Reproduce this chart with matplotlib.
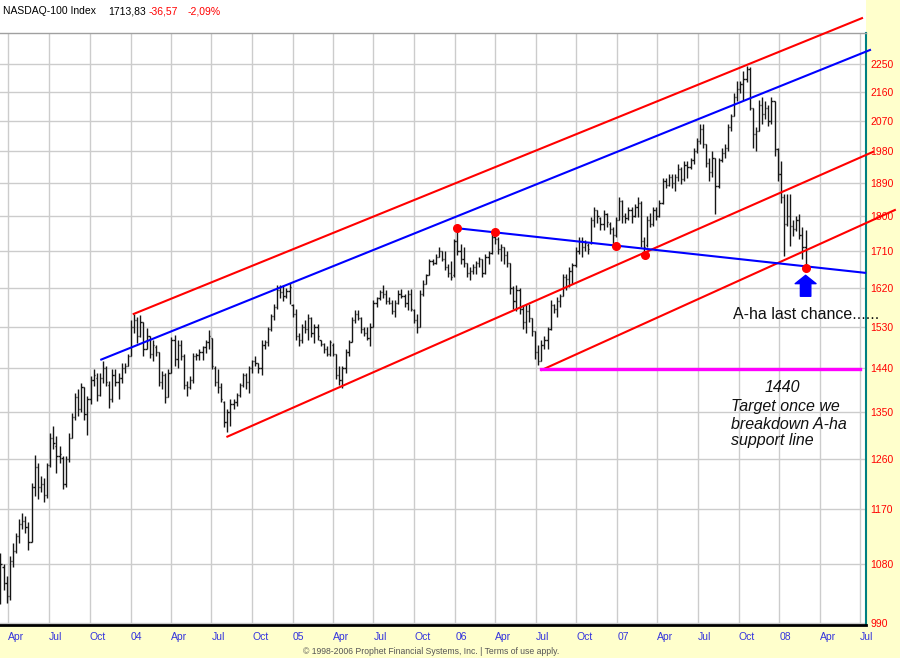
import matplotlib
matplotlib.use('Agg')
import matplotlib.pyplot as plt
import matplotlib.dates as mdates
from matplotlib.patches import Rectangle
import pandas as pd

plt.rcParams['font.family'] = ['Liberation Sans', 'DejaVu Sans']

# weekly NASDAQ-100 bars (first week ends 2003-03-14)
open_ = [1030, 1075, 1050, 1030, 1085, 1100, 1125, 1145, 1150, 1140,
         1115, 1210, 1245, 1210, 1215, 1195, 1248, 1300, 1285, 1265,
         1262, 1215, 1260, 1300, 1340, 1380, 1355, 1400, 1345, 1375,
         1415, 1420, 1385, 1420, 1440, 1405, 1375, 1425, 1410, 1420,
         1440, 1445, 1465, 1530, 1545, 1510, 1540, 1480, 1510, 1470,
         1485, 1475, 1410, 1425, 1380, 1430, 1500, 1460, 1490, 1465,
         1405, 1400, 1415, 1465, 1468, 1475, 1485, 1495, 1505, 1440,
         1410, 1400, 1370, 1330, 1350, 1365, 1370, 1385, 1405, 1425,
         1410, 1440, 1455, 1450, 1440, 1490, 1495, 1525, 1555, 1575,
         1615, 1610, 1600, 1612, 1580, 1560, 1510, 1500, 1530, 1525,
         1550, 1515, 1530, 1500, 1492, 1480, 1470, 1490, 1470, 1425,
         1415, 1440, 1475, 1495, 1545, 1560, 1550, 1525, 1515, 1505,
         1530, 1585, 1595, 1610, 1605, 1590, 1585, 1565, 1585, 1605,
         1600, 1585, 1605, 1568, 1545, 1530, 1605, 1630, 1650, 1685,
         1680, 1695, 1710, 1690, 1670, 1655, 1650, 1735, 1710, 1690,
         1680, 1655, 1660, 1670, 1680, 1690, 1655, 1695, 1705, 1745,
         1740, 1715, 1720, 1700, 1680, 1620, 1590, 1615, 1570, 1540,
         1565, 1550, 1520, 1475, 1455, 1490, 1500, 1525, 1580, 1570,
         1590, 1600, 1645, 1640, 1660, 1675, 1710, 1735, 1720, 1725,
         1730, 1790, 1815, 1795, 1780, 1805, 1780, 1765, 1750, 1790,
         1840, 1800, 1795, 1815, 1800, 1825, 1835, 1735, 1725, 1790,
         1780, 1815, 1800, 1835, 1895, 1885, 1905, 1890, 1905, 1930,
         1900, 1940, 1935, 1955, 1980, 2010, 2045, 2000, 1945, 1920,
         1960, 1880, 1955, 1975, 1990, 2050, 2085, 2145, 2170, 2185,
         2200, 2235, 2110, 2030, 2040, 2120, 2090, 2110, 2070, 2130,
         1985, 1915, 1850, 1780, 1800, 1775, 1765, 1790, 1750, 1720]
high = [1098, 1080, 1061, 1092, 1114, 1131, 1153, 1164, 1159, 1148,
        1217, 1268, 1253, 1229, 1226, 1253, 1309, 1322, 1303, 1284,
        1265, 1265, 1309, 1348, 1389, 1396, 1409, 1400, 1382, 1423,
        1437, 1430, 1430, 1454, 1445, 1412, 1437, 1437, 1430, 1451,
        1451, 1469, 1545, 1560, 1552, 1556, 1540, 1527, 1510, 1501,
        1490, 1475, 1434, 1430, 1437, 1508, 1512, 1501, 1501, 1470,
        1413, 1423, 1472, 1472, 1480, 1487, 1501, 1523, 1505, 1444,
        1437, 1409, 1372, 1355, 1375, 1375, 1389, 1409, 1430, 1430,
        1444, 1458, 1465, 1451, 1501, 1501, 1530, 1560, 1582, 1627,
        1627, 1627, 1620, 1631, 1582, 1571, 1516, 1537, 1545, 1560,
        1552, 1537, 1537, 1501, 1494, 1487, 1501, 1494, 1470, 1444,
        1444, 1480, 1501, 1553, 1568, 1568, 1553, 1530, 1530, 1538,
        1591, 1599, 1614, 1626, 1614, 1599, 1591, 1591, 1614, 1618,
        1606, 1614, 1618, 1570, 1560, 1614, 1638, 1654, 1690, 1690,
        1702, 1719, 1710, 1710, 1678, 1686, 1740, 1768, 1728, 1719,
        1680, 1670, 1678, 1686, 1694, 1690, 1702, 1710, 1754, 1760,
        1745, 1728, 1720, 1710, 1680, 1625, 1626, 1620, 1580, 1583,
        1583, 1550, 1520, 1490, 1500, 1509, 1530, 1591, 1583, 1599,
        1606, 1654, 1654, 1670, 1680, 1719, 1745, 1745, 1737, 1730,
        1798, 1825, 1816, 1798, 1816, 1807, 1785, 1772, 1798, 1851,
        1842, 1807, 1825, 1825, 1833, 1851, 1840, 1745, 1800, 1807,
        1825, 1825, 1842, 1904, 1904, 1914, 1914, 1914, 1942, 1933,
        1952, 1952, 1961, 1990, 2020, 2060, 2060, 2000, 1961, 1980,
        1960, 1961, 1990, 2000, 2060, 2091, 2155, 2196, 2196, 2227,
        2243, 2240, 2110, 2050, 2133, 2144, 2130, 2120, 2144, 2130,
        1990, 1952, 1859, 1859, 1859, 1790, 1800, 1805, 1771, 1763]
low = [1018, 1040, 1020, 1025, 1075, 1098, 1114, 1137, 1131, 1103,
       1115, 1194, 1188, 1200, 1182, 1190, 1245, 1278, 1235, 1253,
       1206, 1210, 1255, 1300, 1335, 1342, 1350, 1335, 1306, 1365,
       1403, 1372, 1382, 1409, 1403, 1358, 1370, 1403, 1375, 1409,
       1430, 1445, 1465, 1516, 1494, 1508, 1465, 1480, 1462, 1454,
       1465, 1403, 1396, 1368, 1380, 1430, 1444, 1440, 1458, 1396,
       1382, 1396, 1409, 1458, 1458, 1458, 1472, 1480, 1437, 1403,
       1389, 1369, 1320, 1310, 1323, 1355, 1362, 1380, 1400, 1396,
       1389, 1430, 1444, 1430, 1426, 1480, 1487, 1520, 1545, 1570,
       1597, 1590, 1597, 1582, 1552, 1501, 1487, 1494, 1516, 1501,
       1508, 1494, 1501, 1487, 1472, 1465, 1465, 1465, 1416, 1405,
       1399, 1430, 1465, 1495, 1538, 1545, 1516, 1509, 1501, 1487,
       1530, 1576, 1591, 1595, 1583, 1583, 1560, 1553, 1583, 1597,
       1576, 1568, 1565, 1538, 1516, 1530, 1600, 1630, 1650, 1674,
       1678, 1694, 1686, 1662, 1646, 1638, 1645, 1700, 1678, 1670,
       1646, 1638, 1654, 1654, 1670, 1646, 1654, 1678, 1702, 1728,
       1702, 1686, 1678, 1670, 1606, 1570, 1565, 1560, 1525, 1516,
       1540, 1509, 1460, 1447, 1455, 1480, 1480, 1523, 1561, 1553,
       1576, 1600, 1614, 1622, 1630, 1670, 1702, 1694, 1710, 1702,
       1728, 1772, 1781, 1763, 1763, 1772, 1754, 1725, 1745, 1789,
       1781, 1781, 1789, 1781, 1798, 1798, 1719, 1703, 1720, 1772,
       1775, 1789, 1798, 1833, 1877, 1880, 1877, 1868, 1895, 1886,
       1895, 1904, 1930, 1942, 1975, 2000, 1990, 1933, 1895, 1905,
       1805, 1877, 1950, 1960, 1980, 2040, 2085, 2130, 2155, 2133,
       2190, 2102, 1990, 1980, 2040, 2060, 2075, 2055, 2060, 1965,
       1895, 1835, 1698, 1775, 1722, 1747, 1760, 1740, 1690, 1671]
close = [1080, 1050, 1030, 1085, 1100, 1125, 1145, 1150, 1140, 1115,
         1210, 1245, 1210, 1215, 1195, 1248, 1300, 1290, 1265, 1270,
         1215, 1260, 1300, 1340, 1380, 1355, 1400, 1345, 1375, 1415,
         1425, 1385, 1420, 1440, 1410, 1375, 1425, 1410, 1420, 1440,
         1445, 1465, 1530, 1545, 1510, 1540, 1480, 1510, 1470, 1490,
         1475, 1410, 1425, 1380, 1430, 1500, 1460, 1490, 1465, 1405,
         1400, 1415, 1465, 1468, 1475, 1485, 1495, 1510, 1445, 1410,
         1400, 1375, 1330, 1350, 1365, 1370, 1385, 1405, 1425, 1410,
         1440, 1455, 1450, 1440, 1490, 1495, 1525, 1555, 1575, 1615,
         1610, 1600, 1612, 1622, 1560, 1510, 1500, 1530, 1525, 1550,
         1515, 1530, 1510, 1492, 1480, 1470, 1495, 1470, 1425, 1415,
         1440, 1475, 1495, 1545, 1560, 1550, 1525, 1515, 1505, 1530,
         1585, 1595, 1610, 1605, 1590, 1585, 1565, 1585, 1605, 1600,
         1585, 1605, 1570, 1545, 1530, 1605, 1630, 1650, 1685, 1680,
         1695, 1710, 1690, 1670, 1655, 1645, 1735, 1710, 1690, 1680,
         1655, 1660, 1670, 1680, 1690, 1655, 1695, 1705, 1745, 1740,
         1715, 1720, 1700, 1680, 1620, 1590, 1615, 1570, 1540, 1565,
         1550, 1520, 1475, 1455, 1490, 1500, 1525, 1580, 1570, 1590,
         1600, 1645, 1640, 1660, 1675, 1710, 1735, 1720, 1730, 1715,
         1790, 1815, 1800, 1780, 1805, 1785, 1765, 1750, 1790, 1840,
         1800, 1795, 1815, 1800, 1825, 1835, 1735, 1720, 1790, 1780,
         1815, 1800, 1835, 1895, 1885, 1905, 1890, 1905, 1930, 1900,
         1940, 1935, 1955, 1980, 2010, 2045, 2000, 1945, 1920, 1960,
         1880, 1955, 1975, 1990, 2050, 2085, 2145, 2170, 2185, 2200,
         2235, 2110, 2030, 2040, 2120, 2090, 2110, 2070, 2130, 1985,
         1915, 1850, 1780, 1800, 1775, 1765, 1790, 1750, 1720, 1714]

price_ticks = [990, 1080, 1170, 1260, 1350, 1440, 1530, 1620, 1710,
               1800, 1890, 1980, 2070, 2160, 2250]
quarter_labels = ['Apr', 'Jul', 'Oct', '04', 'Apr', 'Jul', 'Oct', '05',
                  'Apr', 'Jul', 'Oct', '06', 'Apr', 'Jul', 'Oct', '07',
                  'Apr', 'Jul', 'Oct', '08', 'Apr', 'Jul']

# hand drawn trend lines: (dates, values)
top_red = (['2004-01-08', '2008-07-05'], [1559, 2407])
top_blue = (['2003-10-27', '2008-07-23'], [1458, 2297])
mid_red = (['2004-08-06', '2008-07-30'], [1302, 1978])
low_red = (['2006-07-15', '2008-09-17'], [1436, 1816])
aha_line = (['2006-01-06', '2008-07-12'], [1768, 1656])
target_line = (['2006-07-13', '2008-07-01'], [1437, 1437])
dot_dates = ['2006-01-06', '2006-04-01', '2006-12-28', '2007-03-05', '2008-02-29']
dot_values = [1768, 1759, 1722, 1700, 1667]
arrow_date = '2008-02-29'
arrow_tip, arrow_tail = 1650, 1600

dates = pd.date_range('2003-03-14', periods=len(close), freq='W-FRI')
x = mdates.date2num(dates)


def dn(d):
    return mdates.date2num(pd.to_datetime(d))


fig = plt.figure(figsize=(9, 6.58), dpi=100, facecolor='#ffffcc')
fig.patches.append(Rectangle((0, 625 / 658), 866 / 900, 33 / 658,
                             transform=fig.transFigure, facecolor='white',
                             edgecolor='none', zorder=-1))
ax = fig.add_axes([0, 33 / 658, 866 / 900, 592 / 658])
ax.set_facecolor('white')
ax.set_yscale('log')
ax.set_ylim(987.4, 2355)
ax.set_xlim(dn('2003-03-13'), dn('2008-07-14'))

# grid
qdates = pd.date_range('2003-04-01', periods=len(quarter_labels), freq='QS')
for q in qdates:
    ax.axvline(dn(q), color='#cccccc', lw=1, zorder=0)
for p in price_ticks:
    ax.axhline(p, color='#cccccc', lw=1, zorder=0)

# OHLC bars
bar_col = '#151515'
ax.vlines(x, low, high, color=bar_col, lw=1.0, zorder=2)
ax.hlines(open_, x - 2.8, x, color=bar_col, lw=1.0, zorder=2)
ax.hlines(close, x, x + 2.8, color=bar_col, lw=1.0, zorder=2)

# trend lines
for (d, v), c in [(top_red, '#ff0000'), (top_blue, '#0000ff'),
                  (mid_red, '#ff0000'), (low_red, '#ff0000'),
                  (aha_line, '#0000ff')]:
    ax.plot([dn(d[0]), dn(d[1])], v, color=c, lw=1.5, clip_on=False, zorder=3)
ax.plot([dn(target_line[0][0]), dn(target_line[0][1])], target_line[1],
        color='#ff00ff', lw=2.4, zorder=3)
ax.plot([dn(d) for d in dot_dates], dot_values, 'o', color='#ff0000',
        ms=5.5, zorder=4)
ax.annotate('', xy=(dn(arrow_date), arrow_tip), xytext=(dn(arrow_date), arrow_tail),
            arrowprops=dict(width=7.5, headwidth=15, headlength=6,
                            color='#0000ff', shrink=0), zorder=4)

# notes
ax.text(dn('2007-09-18'), 1558, 'A-ha last chance......', fontsize=11.5,
        color='#111111', va='center', ha='left', clip_on=False)
ax.text(dn('2008-01-07'), 1400, '1440', fontsize=11.5, style='italic',
        color='#111111', va='center', ha='center')
for txt, v in [('Target once we', 1360), ('breakdown A-ha', 1326),
               ('support line', 1294)]:
    ax.text(dn('2007-09-14'), v, txt, fontsize=11.5, style='italic',
            color='#111111', va='center', ha='left')

# axes cosmetics
ax.set_yticks(price_ticks)
ax.set_yticklabels([str(p) for p in price_ticks])
ax.yaxis.set_minor_locator(matplotlib.ticker.NullLocator())
ax.yaxis.tick_right()
ax.tick_params(axis='y', length=0, pad=3, labelsize=7.5, labelcolor='#ff0000')
ax.set_xticks([dn(q) for q in qdates])
ax.set_xticklabels(quarter_labels)
ax.tick_params(axis='x', length=0, pad=5, labelsize=7.5, labelcolor='#3333dd')
for lab in ax.get_xticklabels():
    lab.set_horizontalalignment('left')
ax.spines['left'].set_visible(False)
ax.spines['top'].set_color('#a0a0a0')
ax.spines['top'].set_linewidth(1)
ax.spines['right'].set_color('#008080')
ax.spines['right'].set_linewidth(1.5)
ax.spines['bottom'].set_color('#000000')
ax.spines['bottom'].set_linewidth(2)

# header and footer
fig.text(3 / 900, 1 - 11 / 658, 'NASDAQ-100 Index', fontsize=7.5, va='center')
fig.text(108 / 900, 1 - 11 / 658, '1713,83', fontsize=7.5, va='center')
fig.text(149 / 900, 1 - 11 / 658, '-36,57', fontsize=7.5, va='center', color='#ff0000')
fig.text(188 / 900, 1 - 11 / 658, '-2,09%', fontsize=7.5, va='center', color='#ff0000')
fig.text(431 / 900, 1 - 651 / 658,
         '\u00a9 1998-2006 Prophet Financial Systems, Inc. | Terms of use apply.',
         fontsize=6.2, color='#555555', ha='center', va='center')

fig.savefig('out.png', dpi=100, facecolor=fig.get_facecolor())
